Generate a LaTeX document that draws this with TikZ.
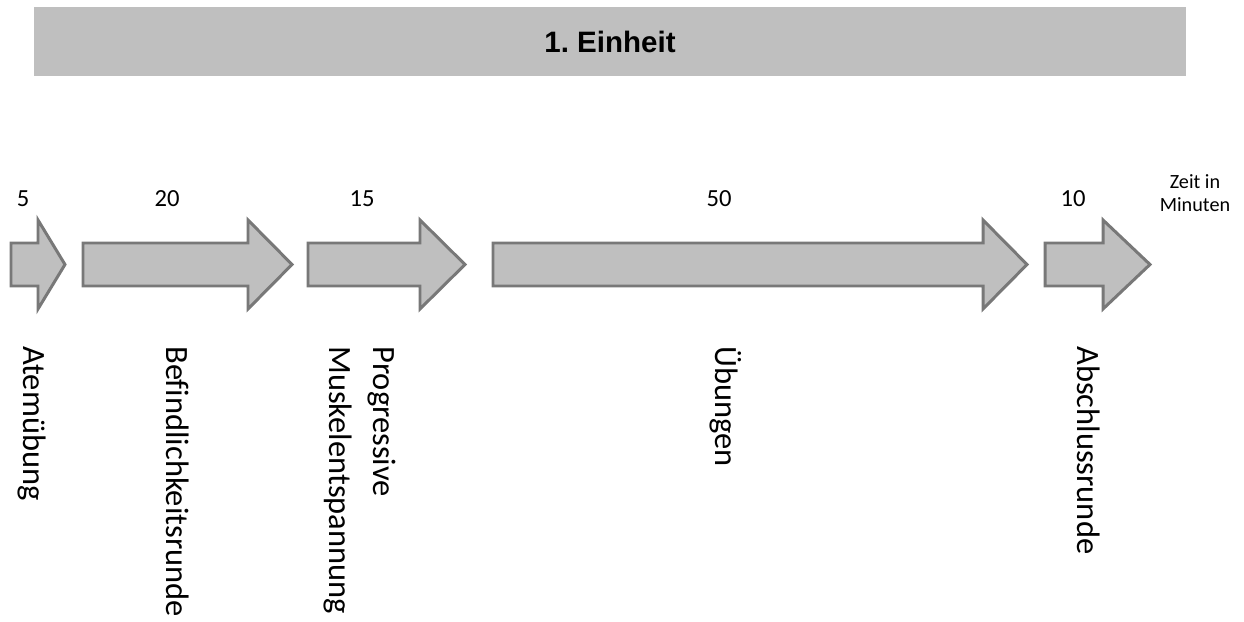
\documentclass[tikz,border=0pt]{standalone}
\usepackage{fontspec}
\setmainfont{Carlito}[Ligatures=NoCommon]
\newfontfamily\hdrfont{Liberation Sans}
\usepackage{xcolor}
\usepackage{tikz}
\usetikzlibrary{positioning}
\definecolor{plangray}{RGB}{191,191,191}
\definecolor{planedge}{RGB}{120,120,120}

\begin{document}
\begin{tikzpicture}[x=0.02cm,y=-0.02cm,hdr/.style={fill=plangray,minimum width=23.04cm,minimum height=1.38cm,inner sep=0pt,font=\hdrfont\bfseries\fontsize{16.8}{20}\selectfont},blk/.style={draw=planedge,fill=plangray,line width=1.7pt,line join=miter},mins/.style={inner sep=0pt,font=\fontsize{14}{16}\selectfont},lab/.style={rotate=-90,anchor=west,inner sep=0pt,align=left,font=\fontsize{18.5}{25}\selectfont}]
\useasboundingbox (0,0) rectangle (1244,622);
\node[hdr] (head) at (610,41.5) {1.\ Einheit};
\foreach \xa/\xb/\xc in {11/38/65,83/248/292,308/420/465,493/983/1027,1045/1103/1150}{\draw[blk] (\xa,243) -- (\xb,243) -- (\xb,220) -- (\xc,264.5) -- (\xb,309) -- (\xb,286) -- (\xa,286) -- cycle;}
\node[mins] (t1) at (23,199) {5};
\node[mins] (t2) at (167,199) {20};
\node[mins] (t3) at (362,199) {15};
\node[mins] (t4) at (719,199) {50};
\node[mins] (t5) at (1073,199) {10};
\node[inner sep=0pt,align=center,font=\fontsize{11.5}{13}\selectfont] (unit) at (1195,193) {Zeit in\\Minuten};
\node[lab] (l1) at (32,346) {Atemübung};
\node[lab] (l2) at (178,346) {Befindlichkeitsrunde};
\node[lab] (l3) at (360,346) {Progressive\\Muskelentspannung};
\node[lab] (l4) at (726,346) {Übungen};
\node[lab] (l5) at (1089,346) {Abschlussrunde};
\end{tikzpicture}
\end{document}
